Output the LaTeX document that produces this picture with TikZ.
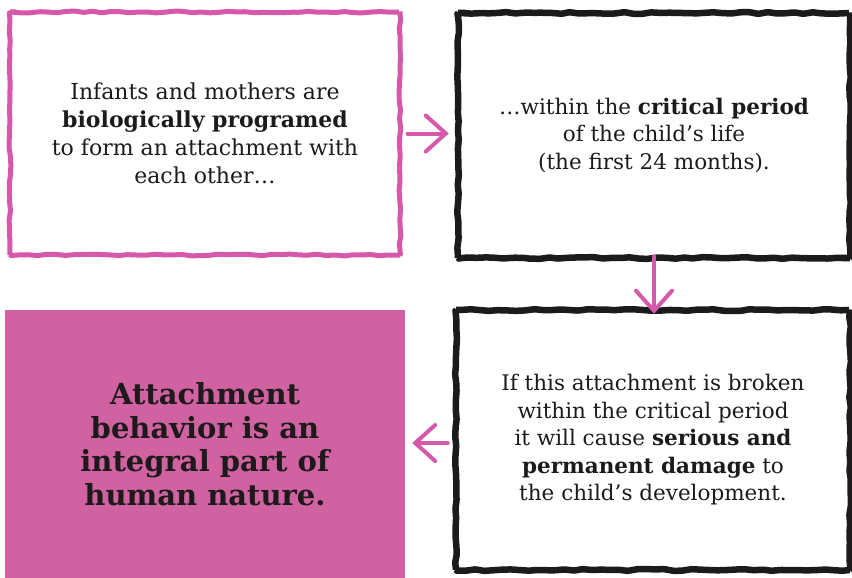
\documentclass[tikz,border=0pt]{standalone}
\usepackage{fontspec}
\setmainfont{DejaVu Serif}
\usepackage{xcolor}
\usetikzlibrary{arrows.meta, positioning, decorations.pathmorphing}

\definecolor{pinkline}{RGB}{214,88,170}
\definecolor{pinkfill}{RGB}{208,98,162}
\definecolor{inkblack}{RGB}{28,26,26}

\begin{document}
\begin{tikzpicture}[
    x=1pt, y=-1pt,
    every node/.style={align=center, inner sep=0pt,
                       font=\fontsize{21.5}{27.5}\selectfont, text=inkblack},
    sketch/.style={decorate, decoration={random steps, segment length=9pt,
                   amplitude=0.9pt}, rounded corners=1pt},
    pinkbox/.style={draw=pinkline, line width=5pt, sketch},
    blackbox/.style={draw=inkblack, line width=6.5pt, sketch},
    fillbox/.style={fill=pinkfill},
    flow/.style={draw=pinkline, line width=4pt, line cap=round,
                 -{Straight Barb[length=20pt, width=36pt, line cap=round]}}
  ]
  \pgfmathsetseed{7}
  \useasboundingbox (0,0) rectangle (852,578);

  % boxes
  \node[pinkbox, minimum width=390pt, minimum height=243pt,
        font=\fontsize{22}{28}\selectfont] (infants) at (205,133.5)
    {Infants and mothers are\\ \textbf{biologically programed}\\
     to form an attachment with\\ each other\ldots};
  \node[blackbox, minimum width=392pt, minimum height=245pt] (critical) at (654,135.5)
    {\ldots within the \textbf{critical period}\\ of the child’s life\\
     (the first 24 months).};
  \node[blackbox, minimum width=394pt, minimum height=260pt] (broken) at (653,440)
    {If this attachment is broken\\ within the critical period\\
     it will cause \textbf{serious and}\\ \textbf{permanent damage} to\\
     the child’s development.};
  \node[fillbox, minimum width=400pt, minimum height=268pt,
        font=\fontsize{29}{33.5}\selectfont\bfseries] (nature) at (205,444)
    {Attachment\\ behavior is an\\ integral part of\\ human nature.};

  % arrows
  \draw[flow] ([xshift=5pt]infants.east) -- ([xshift=-6pt]critical.west |- infants.east);
  \draw[flow] ([yshift=5pt]critical.south) -- ([yshift=-7pt]critical.south |- broken.north);
  \draw[flow] ([xshift=-5pt]broken.west |- 0,443) -- ([xshift=7pt]nature.east |- 0,443);
\end{tikzpicture}
\end{document}
